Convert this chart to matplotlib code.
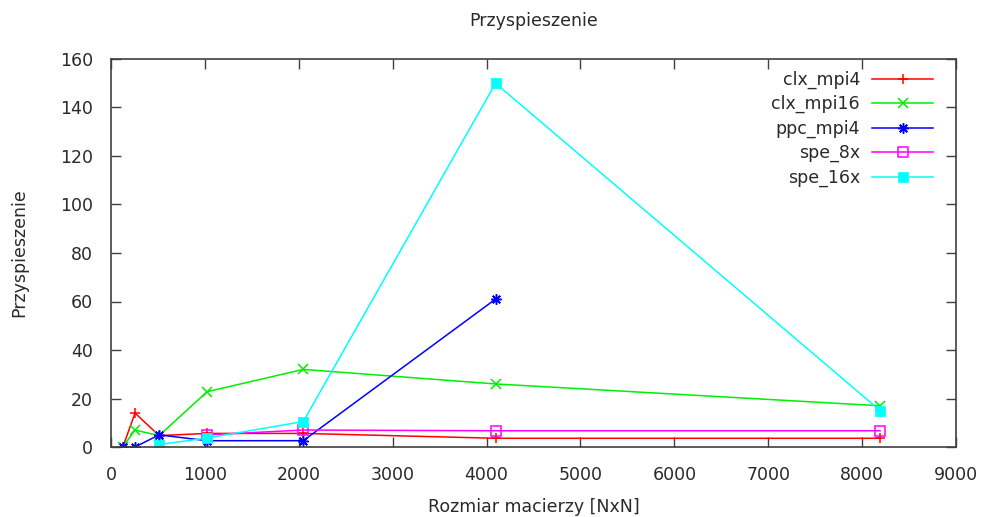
import matplotlib
matplotlib.use("Agg")
import matplotlib.pyplot as plt

sizes = [128, 256, 512, 1024, 2048, 4096, 8192]

clx_mpi4_x = [128, 256, 512, 1024, 2048, 4096, 8192]
clx_mpi4 = [0.2, 14.0, 4.7, 5.6, 5.6, 3.6, 3.6]

clx_mpi16_x = [128, 256, 512, 1024, 2048, 4096, 8192]
clx_mpi16 = [0.2, 7.0, 4.7, 22.8, 32.0, 26.0, 17.0]

ppc_mpi4_x = [128, 256, 512, 1024, 2048, 4096]
ppc_mpi4 = [0.0, 0.0, 5.0, 2.6, 2.6, 61.0]

spe_8x_x = [1024, 2048, 4096, 8192]
spe_8x = [5.0, 7.0, 6.7, 6.7]

spe_16x_x = [512, 1024, 2048, 4096, 8192]
spe_16x = [1.0, 3.7, 10.5, 150.0, 15.0]

x_ticks = [0, 1000, 2000, 3000, 4000, 5000, 6000, 7000, 8000, 9000]
y_ticks = [0, 20, 40, 60, 80, 100, 120, 140, 160]

txt = "#2a2a2a"
fs = 12.5
fig = plt.figure(figsize=(9.86, 5.17), dpi=100)
ax = fig.add_axes([111/986, 1-447/517, (956-111)/986, (447-59)/517])

lw = 1.1
ms = 7.5
ax.plot(clx_mpi4_x, clx_mpi4, color="#ff0000", lw=lw, marker="+", ms=ms, mew=1.1, label="clx_mpi4")
ax.plot(clx_mpi16_x, clx_mpi16, color="#00ee00", lw=lw, marker="x", ms=ms-1, mew=1.1, label="clx_mpi16")
ax.plot(ppc_mpi4_x, ppc_mpi4, color="#0000ff", lw=lw, marker=(8, 2, 0), ms=ms, mew=1.1, label="ppc_mpi4")
ax.plot(spe_8x_x, spe_8x, color="#ff00ff", lw=lw, marker="s", ms=ms-1, mfc="none", mew=1.1, label="spe_8x")
ax.plot(spe_16x_x, spe_16x, color="#00ffff", lw=lw, marker="s", ms=ms, mew=0.5, label="spe_16x")

ax.set_xlim(0, 9000)
ax.set_ylim(0, 160)
ax.set_xticks(x_ticks)
ax.set_yticks(y_ticks)
ax.tick_params(direction="in", top=True, right=True, length=7, width=1, colors="#404040",
               labelcolor=txt, labelsize=fs)
ax.tick_params(axis="y", pad=13)
ax.tick_params(axis="x", pad=14)
for s in ax.spines.values():
    s.set_color("#404040")
    s.set_linewidth(1.2)

ax.set_title("Przyspieszenie", fontsize=fs, color=txt, pad=24)
ax.set_xlabel("Rozmiar macierzy [NxN]", fontsize=fs, color=txt, labelpad=9.5)
ax.set_ylabel("Przyspieszenie", fontsize=fs, color=txt, labelpad=22.5)

leg = ax.legend(loc="upper right", markerfirst=False, frameon=False, fontsize=fs,
                handlelength=3.5, handletextpad=0.7, labelspacing=0.36,
                bbox_to_anchor=(0.981, 0.988), borderaxespad=0)
for t in leg.get_texts():
    t.set_color(txt)

fig.savefig("out.png", dpi=100)
